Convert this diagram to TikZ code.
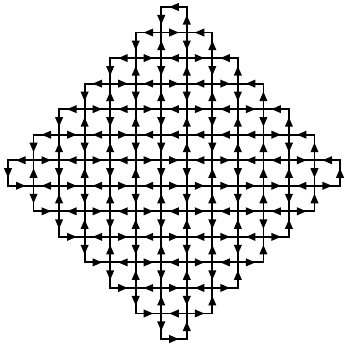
\documentclass[tikz,border=0pt]{standalone}
\usetikzlibrary{arrows.meta,decorations.markings}
\begin{document}
\begin{tikzpicture}[x=1pt,y=-1pt,
  edge/.style={line width=1.8pt, line cap=rect, postaction={decorate},
    decoration={markings, mark=at position 17.6pt with {\arrow{Triangle[length=9.6pt,width=7.6pt]}}}}]
\useasboundingbox (0,0) rectangle (345,344);
\foreach \i in {0,...,13}{\foreach \j in {0,...,13}{
  \coordinate (p-\i-\j) at ({8+25.54*\j},{7+25.54*\i});}}
% horizontal lines: line / first column / directions
\foreach \i/\s/\dirs in {
  0/6/{L},
  1/5/{L,R,L},
  2/4/{L,R,L,R,L},
  3/3/{L,R,L,R,L,R,L},
  4/2/{L,R,L,R,L,R,L,R,L},
  5/1/{L,R,L,R,L,L,L,L,L,R,L},
  6/0/{L,R,L,R,L,R,R,L,R,L,L,R,L},
  7/0/{R,L,R,L,R,L,R,R,R,R,R,L,R},
  8/1/{R,L,R,L,R,L,R,L,R,L,R},
  9/2/{R,L,R,L,R,L,R,L,R},
  10/3/{R,L,R,L,R,L,R},
  11/4/{R,L,R,L,R},
  12/5/{R,L,R},
  13/6/{R}}{
  \foreach \d [count=\k from 0] in \dirs {
    \pgfmathtruncatemacro{\ja}{\s+\k}
    \pgfmathtruncatemacro{\jb}{\s+\k+1}
    \if\d R\relax
      \draw[edge] (p-\i-\ja) -- (p-\i-\jb);
    \else
      \draw[edge] (p-\i-\jb) -- (p-\i-\ja);
    \fi
  }
}
% vertical edges: square row / first column / directions
\foreach \r/\s/\dirs in {
  0/6/{D,U},
  1/5/{D,U,D,U},
  2/4/{D,U,D,U,D,U},
  3/3/{D,U,D,U,D,U,D,U},
  4/2/{D,U,D,U,D,U,D,U,D,U},
  5/1/{D,U,D,U,D,D,U,D,U,U,D,U},
  6/0/{D,U,D,U,D,U,D,D,U,D,U,U,D,U},
  7/1/{D,U,D,U,D,U,D,U,D,U,D,U},
  8/2/{D,U,D,U,D,U,D,U,D,U},
  9/3/{D,U,D,U,D,U,D,U},
  10/4/{D,U,D,U,D,U},
  11/5/{D,U,D,U},
  12/6/{D,U}}{
  \pgfmathtruncatemacro{\rb}{\r+1}
  \foreach \d [count=\k from 0] in \dirs {
    \pgfmathtruncatemacro{\jj}{\s+\k}
    \if\d D\relax
      \draw[edge] (p-\r-\jj) -- (p-\rb-\jj);
    \else
      \draw[edge] (p-\rb-\jj) -- (p-\r-\jj);
    \fi
  }
}
\end{tikzpicture}
\end{document}
